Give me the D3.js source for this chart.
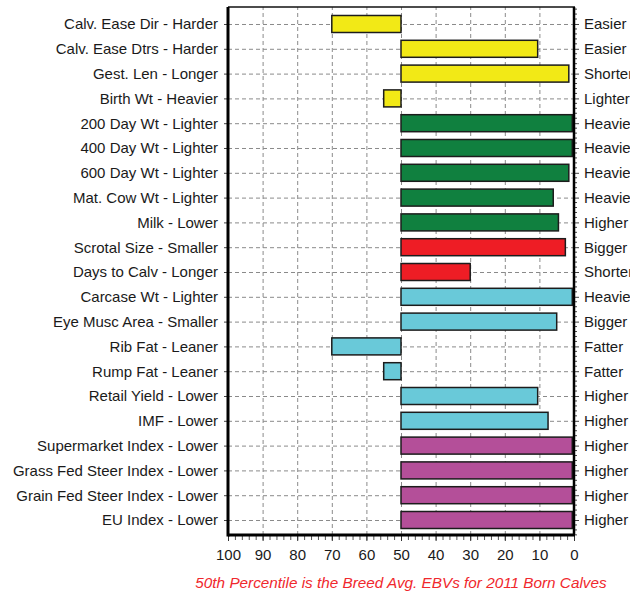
<!DOCTYPE html>
<html>
<head>
<meta charset="utf-8">
<script src="https://cdn.jsdelivr.net/npm/d3@7"></script>
<style>
  body { margin: 0; background: #fff; }
  svg { display: block; font-family: "Liberation Sans", Arial, sans-serif; }
  .grid line { stroke: #8a8a8a; stroke-dasharray: 4,3; stroke-width: 1; }
  .grid path { display: none; }
</style>
</head>
<body>
<svg id="chart" width="630" height="591"></svg>
<script>
// traits, top to bottom
const leftLabels = [
  "Calv. Ease Dir - Harder", "Calv. Ease Dtrs - Harder", "Gest. Len - Longer",
  "Birth Wt - Heavier", "200 Day Wt - Lighter", "400 Day Wt - Lighter",
  "600 Day Wt - Lighter", "Mat. Cow Wt - Lighter", "Milk - Lower",
  "Scrotal Size - Smaller", "Days to Calv - Longer", "Carcase Wt - Lighter",
  "Eye Musc Area - Smaller", "Rib Fat - Leaner", "Rump Fat - Leaner",
  "Retail Yield - Lower", "IMF - Lower", "Supermarket Index - Lower",
  "Grass Fed Steer Index - Lower", "Grain Fed Steer Index - Lower", "EU Index - Lower"
];
const rightLabels = [
  "Easier", "Easier", "Shorter", "Lighter", "Heavier", "Heavier", "Heavier",
  "Heavier", "Higher", "Bigger", "Shorter", "Heavier", "Bigger", "Fatter",
  "Fatter", "Higher", "Higher", "Higher", "Higher", "Higher", "Higher"
];
// percentile band each bar reaches (bars start at 50 = breed avg)
const percentiles = [70, 10.5, 1.5, 55, 0.5, 0.5, 1.5, 6, 4.5, 2.5, 30, 0.5, 5,
  70, 55, 10.5, 7.5, 0.5, 0.5, 0.5, 0.5];
const groups = ["calving", "calving", "calving", "calving", "growth", "growth",
  "growth", "growth", "growth", "fertility", "fertility", "carcase", "carcase",
  "carcase", "carcase", "carcase", "carcase", "index", "index", "index", "index"];
const groupColours = {
  calving: "#f2e916", growth: "#10803f", fertility: "#ee1d25",
  carcase: "#69c9d9", index: "#b44f99"
};
const xTicks = [100, 90, 80, 70, 60, 50, 40, 30, 20, 10, 0];
const footnote = "50th Percentile is the Breed Avg. EBVs for 2011 Born Calves";

const plot = {left: 228, right: 574, top: 7, bottom: 535};

const data = leftLabels.map((l, i) => ({
  label: l, right: rightLabels[i], value: percentiles[i], group: groups[i]
}));

const svg = d3.select("#chart");

const x = d3.scaleLinear().domain([100, 0]).range([plot.left, plot.right]);
const y = d3.scalePoint().domain(d3.range(data.length))
  .range([plot.top + 1, plot.bottom + 1]).padding(0.645);
const barH = 17;

// grid lines
svg.append("g")
  .attr("class", "grid")
  .attr("transform", `translate(0,${plot.bottom})`)
  .call(d3.axisBottom(x).tickValues(d3.range(10, 100, 10))
    .tickFormat("").tickSize(-(plot.bottom - plot.top)));

svg.append("g")
  .attr("class", "grid")
  .attr("transform", `translate(${plot.left},0)`)
  .call(d3.axisLeft(y).tickFormat("").tickSize(-(plot.right - plot.left)));

// bars
svg.append("g")
  .selectAll("rect")
  .data(data)
  .enter().append("rect")
  .attr("x", d => Math.min(x(50), x(d.value)))
  .attr("width", d => Math.abs(x(d.value) - x(50)))
  .attr("y", (d, i) => y(i) - barH / 2)
  .attr("height", barH)
  .style("fill", d => groupColours[d.group])
  .style("stroke", "#1c1c1c")
  .style("stroke-width", 1.5);

// left axis with trait labels
const leftAx = svg.append("g")
  .attr("transform", `translate(${plot.left},0)`)
  .call(d3.axisLeft(y).tickSize(4).tickPadding(6).tickFormat(i => leftLabels[i]));
leftAx.select(".domain").remove();
leftAx.selectAll("line").attr("stroke", "#444");
leftAx.selectAll("text").attr("font-size", 15).attr("fill", "#1a1a1a")
  .attr("font-family", "Liberation Sans, Arial, sans-serif");

// right axis with direction labels
const minorY = [];
const step = y.step();
for (let i = 0; i < data.length; i++) {
  for (let k = -2; k <= 2; k++) { if (k !== 0) minorY.push(y(i) + k * step / 5); }
}
minorY.push(y(0) - 3 * step / 5, y(data.length - 1) + 3 * step / 5);
svg.append("g")
  .selectAll("line")
  .data(minorY.filter(v => v > plot.top && v < plot.bottom))
  .enter().append("line")
  .attr("x1", plot.right).attr("x2", plot.right + 3)
  .attr("y1", d => d).attr("y2", d => d)
  .attr("stroke", "#444");

const rightAx = svg.append("g")
  .attr("transform", `translate(${plot.right},0)`)
  .call(d3.axisRight(y).tickSize(5).tickPadding(5).tickFormat(i => rightLabels[i]));
rightAx.select(".domain").remove();
rightAx.selectAll("line").attr("stroke", "#444");
rightAx.selectAll("text").attr("font-size", 15).attr("fill", "#1a1a1a")
  .attr("font-family", "Liberation Sans, Arial, sans-serif");

// bottom axis
const minorAx = svg.append("g")
  .attr("transform", `translate(0,${plot.bottom})`)
  .call(d3.axisBottom(x).tickValues(d3.range(0, 101, 2)).tickSize(5).tickFormat(""));
minorAx.select(".domain").remove();
minorAx.selectAll("line").attr("stroke", "#555");

const bottomAx = svg.append("g")
  .attr("transform", `translate(0,${plot.bottom})`)
  .call(d3.axisBottom(x).tickValues(xTicks).tickSize(6).tickPadding(8));
bottomAx.select(".domain").remove();
bottomAx.selectAll("line").attr("stroke", "#333");
bottomAx.selectAll("text").attr("font-size", 15).attr("fill", "#1a1a1a")
  .attr("font-family", "Liberation Sans, Arial, sans-serif");

// frame
svg.append("line").attr("x1", plot.left).attr("x2", plot.right + 1)
  .attr("y1", plot.top).attr("y2", plot.top).attr("stroke", "#111").attr("stroke-width", 1.5);
svg.append("line").attr("x1", plot.right).attr("x2", plot.right)
  .attr("y1", plot.top).attr("y2", plot.bottom).attr("stroke", "#000").attr("stroke-width", 2.5);
svg.append("line").attr("x1", plot.left).attr("x2", plot.left)
  .attr("y1", plot.top).attr("y2", plot.bottom + 1.5).attr("stroke", "#000").attr("stroke-width", 3);
svg.append("line").attr("x1", plot.left).attr("x2", plot.right + 1)
  .attr("y1", plot.bottom).attr("y2", plot.bottom).attr("stroke", "#000").attr("stroke-width", 3);

// footnote
svg.append("text")
  .attr("x", x(50))
  .attr("y", 588)
  .attr("text-anchor", "middle")
  .attr("font-size", 15.3)
  .attr("font-style", "italic")
  .attr("fill", "#f0282d")
  .text(footnote);
</script>
</body>
</html>
